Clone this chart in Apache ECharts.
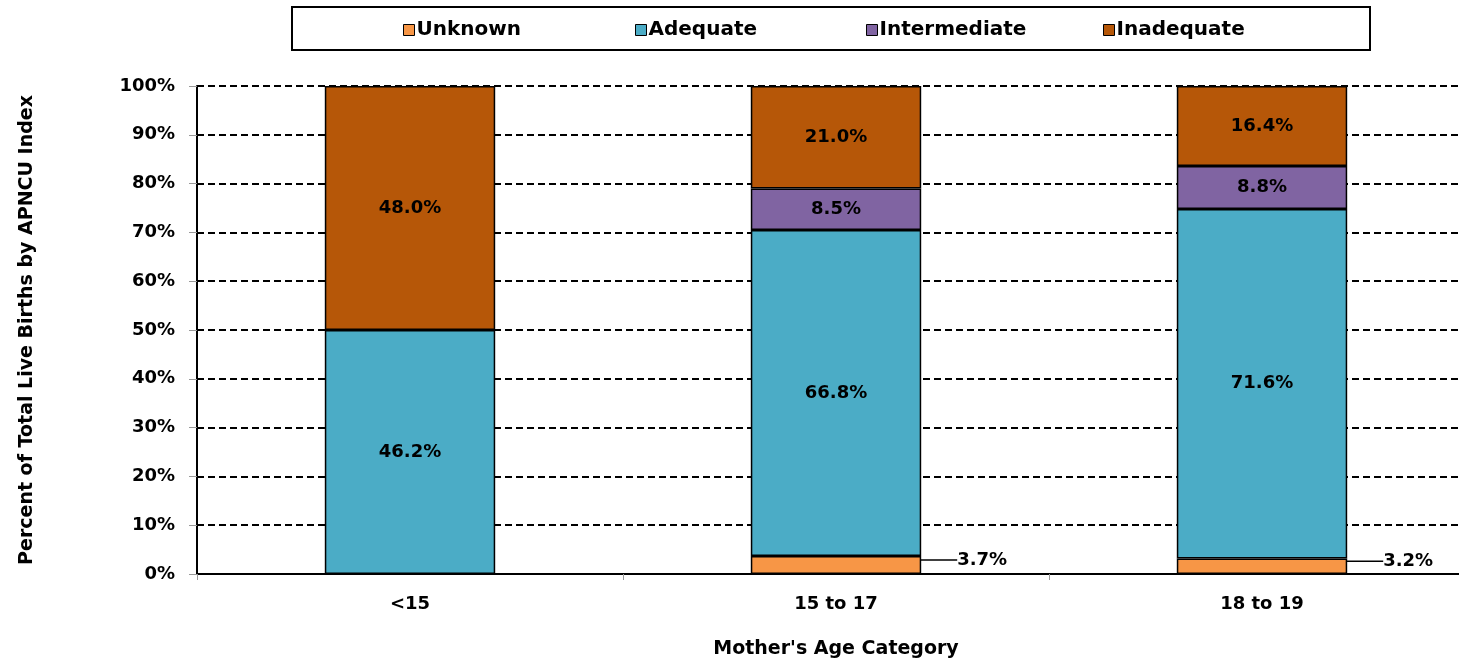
<!DOCTYPE html>
<html>
<head>
<meta charset="utf-8">
<script src="https://cdn.jsdelivr.net/npm/echarts@6/dist/echarts.min.js"></script>
<style>
  html, body { margin: 0; padding: 0; background: #fff; overflow: hidden; }
  #wrap { width: 1459px; height: 662px; overflow: hidden; position: relative; }
  #main { width: 1475px; height: 662px; position: absolute; left: 0; top: 0; }
</style>
</head>
<body>
<div id="wrap"><div id="main"></div></div>
<script>
// categories and values (bar heights as drawn), plus label texts
var categories = ['<15', '15 to 17', '18 to 19'];
var unknown = [0, 3.7, 3.2];
var adequate = [50, 66.8, 71.6];
var intermediate = [0, 8.5, 8.8];
var inadequate = [50, 21.0, 16.4];
// text printed on the bars (the <15 bar carries different printed values)
var unknownText = ['', '3.7%', '3.2%'];
var adequateText = ['46.2%', '66.8%', '71.6%'];
var intermediateText = ['', '8.5%', '8.8%'];
var inadequateText = ['48.0%', '21.0%', '16.4%'];

var names = ['Unknown', 'Adequate', 'Intermediate', 'Inadequate'];
var legendX = [403, 635, 866, 1103];

var FONT = 'DejaVu Sans, sans-serif';

var chart = echarts.init(document.getElementById('main'));

function barSeries(name, data, texts, color, extra) {
  var s = {
    name: name,
    type: 'bar',
    stack: 'total',
    barWidth: '40%',
    data: data.map(function (v) {
      return v ? v : { value: v, label: { show: false }, labelLine: { show: false } };
    }),
    itemStyle: { color: color, borderColor: '#000', borderWidth: 1.5 },
    label: {
      show: true,
      position: 'inside',
      fontFamily: FONT,
      fontWeight: 'bold',
      fontSize: 18,
      color: '#000',
      formatter: function (p) { return texts[p.dataIndex]; }
    }
  };
  for (var k in extra) s[k] = extra[k];
  return s;
}

var legends = names.map(function (n, i) {
  return {
    data: [n],
    top: 20,
    left: legendX[i],
    padding: 0,
    itemWidth: 11,
    itemHeight: 11,
    icon: 'rect',
    selectedMode: false,
    itemStyle: { borderColor: '#000', borderWidth: 1 },
    textStyle: { fontFamily: FONT, fontWeight: 'bold', fontSize: 20, color: '#000', padding: [0, 0, 0, -3] }
  };
});

var option = {
  animation: false,
  backgroundColor: '#fff',
  graphic: [{
    type: 'rect',
    shape: { x: 292, y: 7, width: 1078, height: 43 },
    style: { fill: 'none', stroke: '#000', lineWidth: 2 },
    z: 0
  }],
  legend: legends,
  grid: { left: 197, right: 0, top: 86, bottom: 88, outerBoundsMode: 'none' },
  xAxis: {
    type: 'category',
    data: categories,
    name: "Mother's Age Category",
    nameLocation: 'middle',
    nameGap: 66,
    nameTextStyle: { fontFamily: FONT, fontWeight: 'bold', fontSize: 19, color: '#000' },
    axisLine: { lineStyle: { color: '#000', width: 2 } },
    axisTick: { show: true, length: 6, lineStyle: { color: '#999' } },
    axisLabel: { fontFamily: FONT, fontWeight: 'bold', fontSize: 18, color: '#000', margin: 21 }
  },
  yAxis: {
    type: 'value',
    min: 0,
    max: 100,
    interval: 10,
    name: 'Percent of Total Live Births by APNCU Index',
    nameLocation: 'middle',
    nameGap: 160,
    nameTextStyle: { fontFamily: FONT, fontWeight: 'bold', fontSize: 19, color: '#000' },
    axisLine: { show: true, lineStyle: { color: '#000', width: 2 } },
    axisTick: { show: true, length: 8, lineStyle: { color: '#999' } },
    axisLabel: { fontFamily: FONT, fontWeight: 'bold', fontSize: 18, color: '#000', margin: 22, formatter: '{value}%' },
    splitLine: { show: true, lineStyle: { color: '#000', width: 2, type: [7, 4] } }
  },
  series: [
    barSeries('Unknown', unknown, unknownText, '#F79646', {
      label: {
        show: true,
        position: 'right',
        distance: 5,
        padding: [0, 0, 0, 12],
        fontFamily: FONT,
        fontWeight: 'bold',
        fontSize: 18,
        color: '#000',
        formatter: function (p) { return unknownText[p.dataIndex]; }
      },
      labelLayout: { dx: 19, dy: -5 },
      labelLine: { show: true, lineStyle: { color: '#000', width: 1.5 } }
    }),
    barSeries('Adequate', adequate, adequateText, '#4BACC6'),
    barSeries('Intermediate', intermediate, intermediateText, '#8064A2'),
    barSeries('Inadequate', inadequate, inadequateText, '#B65708')
  ]
};

chart.setOption(option);
</script>
</body>
</html>
